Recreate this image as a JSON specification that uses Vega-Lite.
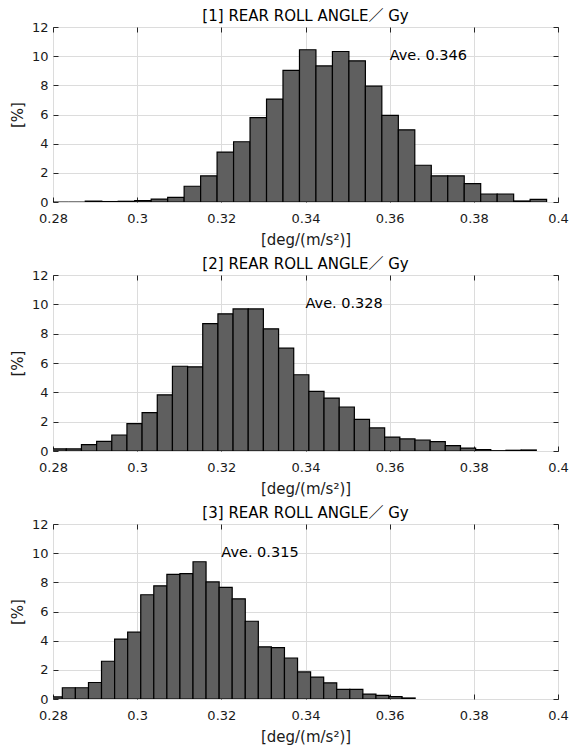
{
  "$schema": "https://vega.github.io/schema/vega-lite/v6.json",
  "padding": {"left": 9, "top": 8, "right": 4, "bottom": 2},
  "bounds": "flush",
  "spacing": 73,
  "config": {
    "font": "DejaVu Sans, Noto Sans CJK JP",
    "view": {"stroke": "#262626", "strokeWidth": 1},
    "axis": {
      "labelFont": "DejaVu Sans, Noto Sans CJK JP",
      "labelFontSize": 13,
      "labelColor": "#1a1a1a",
      "titleFont": "DejaVu Sans, Noto Sans CJK JP",
      "titleFontSize": 15,
      "titleFontWeight": "normal",
      "titleColor": "#1a1a1a",
      "tickColor": "#262626",
      "tickSize": -5,
      "gridColor": "#dcdcdc",
      "gridWidth": 1,
      "domain": false,
      "labelFlush": false,
      "labelOverlap": false,
      "labelBound": false
    },
    "title": {
      "font": "DejaVu Sans, Noto Sans CJK JP",
      "fontSize": 15,
      "fontWeight": "normal",
      "color": "#000000",
      "anchor": "middle",
      "baseline": "alphabetic",
      "offset": -3
    }
  },
  "datasets": {
    "p1": [
      {"x0": 0.27984, "x1": 0.28376, "pct": 0},
      {"x0": 0.28376, "x1": 0.28767, "pct": 0},
      {"x0": 0.28767, "x1": 0.29159, "pct": 0.06},
      {"x0": 0.29159, "x1": 0.2955, "pct": 0.03},
      {"x0": 0.2955, "x1": 0.29942, "pct": 0.05},
      {"x0": 0.29942, "x1": 0.30333, "pct": 0.1},
      {"x0": 0.30333, "x1": 0.30725, "pct": 0.2},
      {"x0": 0.30725, "x1": 0.31116, "pct": 0.32},
      {"x0": 0.31116, "x1": 0.31508, "pct": 1.08},
      {"x0": 0.31508, "x1": 0.31899, "pct": 1.79},
      {"x0": 0.31899, "x1": 0.32291, "pct": 3.42},
      {"x0": 0.32291, "x1": 0.32682, "pct": 4.13},
      {"x0": 0.32682, "x1": 0.33074, "pct": 5.78},
      {"x0": 0.33074, "x1": 0.33465, "pct": 7.06},
      {"x0": 0.33465, "x1": 0.33857, "pct": 9.03},
      {"x0": 0.33857, "x1": 0.34248, "pct": 10.44},
      {"x0": 0.34248, "x1": 0.3464, "pct": 9.33},
      {"x0": 0.3464, "x1": 0.35031, "pct": 10.32},
      {"x0": 0.35031, "x1": 0.35423, "pct": 9.68},
      {"x0": 0.35423, "x1": 0.35814, "pct": 7.94},
      {"x0": 0.35814, "x1": 0.36206, "pct": 5.94},
      {"x0": 0.36206, "x1": 0.36597, "pct": 4.95},
      {"x0": 0.36597, "x1": 0.36989, "pct": 2.52},
      {"x0": 0.36989, "x1": 0.3738, "pct": 1.79},
      {"x0": 0.3738, "x1": 0.37772, "pct": 1.79},
      {"x0": 0.37772, "x1": 0.38163, "pct": 1.26},
      {"x0": 0.38163, "x1": 0.38555, "pct": 0.55},
      {"x0": 0.38555, "x1": 0.38946, "pct": 0.55},
      {"x0": 0.38946, "x1": 0.39338, "pct": 0.07},
      {"x0": 0.39338, "x1": 0.39729, "pct": 0.18}
    ],
    "p2": [
      {"x0": 0.27956, "x1": 0.28316, "pct": 0.14},
      {"x0": 0.28316, "x1": 0.28676, "pct": 0.14},
      {"x0": 0.28676, "x1": 0.29037, "pct": 0.43},
      {"x0": 0.29037, "x1": 0.29397, "pct": 0.66},
      {"x0": 0.29397, "x1": 0.29757, "pct": 1.09},
      {"x0": 0.29757, "x1": 0.30117, "pct": 1.86},
      {"x0": 0.30117, "x1": 0.30478, "pct": 2.61},
      {"x0": 0.30478, "x1": 0.30838, "pct": 3.83},
      {"x0": 0.30838, "x1": 0.31198, "pct": 5.78},
      {"x0": 0.31198, "x1": 0.31558, "pct": 5.74},
      {"x0": 0.31558, "x1": 0.31919, "pct": 8.69},
      {"x0": 0.31919, "x1": 0.32279, "pct": 9.35},
      {"x0": 0.32279, "x1": 0.32639, "pct": 9.69},
      {"x0": 0.32639, "x1": 0.32999, "pct": 9.69},
      {"x0": 0.32999, "x1": 0.3336, "pct": 8.33},
      {"x0": 0.3336, "x1": 0.3372, "pct": 7.01},
      {"x0": 0.3372, "x1": 0.3408, "pct": 5.2},
      {"x0": 0.3408, "x1": 0.3444, "pct": 4.06},
      {"x0": 0.3444, "x1": 0.34801, "pct": 3.61},
      {"x0": 0.34801, "x1": 0.35161, "pct": 3.0},
      {"x0": 0.35161, "x1": 0.35521, "pct": 2.16},
      {"x0": 0.35521, "x1": 0.35881, "pct": 1.57},
      {"x0": 0.35881, "x1": 0.36242, "pct": 0.95},
      {"x0": 0.36242, "x1": 0.36602, "pct": 0.82},
      {"x0": 0.36602, "x1": 0.36962, "pct": 0.75},
      {"x0": 0.36962, "x1": 0.37322, "pct": 0.64},
      {"x0": 0.37322, "x1": 0.37683, "pct": 0.36},
      {"x0": 0.37683, "x1": 0.38043, "pct": 0.2},
      {"x0": 0.38043, "x1": 0.38403, "pct": 0.09},
      {"x0": 0.38403, "x1": 0.38763, "pct": 0.02},
      {"x0": 0.38763, "x1": 0.39124, "pct": 0.05},
      {"x0": 0.39124, "x1": 0.39484, "pct": 0.07}
    ],
    "p3": [
      {"x0": 0.27911, "x1": 0.28222, "pct": 0.14},
      {"x0": 0.28222, "x1": 0.28532, "pct": 0.77},
      {"x0": 0.28532, "x1": 0.28843, "pct": 0.77},
      {"x0": 0.28843, "x1": 0.29153, "pct": 1.13},
      {"x0": 0.29153, "x1": 0.29464, "pct": 2.59},
      {"x0": 0.29464, "x1": 0.29774, "pct": 4.11},
      {"x0": 0.29774, "x1": 0.30085, "pct": 4.58},
      {"x0": 0.30085, "x1": 0.30395, "pct": 7.15},
      {"x0": 0.30395, "x1": 0.30706, "pct": 7.76},
      {"x0": 0.30706, "x1": 0.31016, "pct": 8.55},
      {"x0": 0.31016, "x1": 0.31327, "pct": 8.6},
      {"x0": 0.31327, "x1": 0.31637, "pct": 9.41},
      {"x0": 0.31637, "x1": 0.31948, "pct": 8.03},
      {"x0": 0.31948, "x1": 0.32258, "pct": 7.65},
      {"x0": 0.32258, "x1": 0.32569, "pct": 6.87},
      {"x0": 0.32569, "x1": 0.32879, "pct": 5.33},
      {"x0": 0.32879, "x1": 0.3319, "pct": 3.58},
      {"x0": 0.3319, "x1": 0.335, "pct": 3.52},
      {"x0": 0.335, "x1": 0.33811, "pct": 2.81},
      {"x0": 0.33811, "x1": 0.34121, "pct": 1.86},
      {"x0": 0.34121, "x1": 0.34432, "pct": 1.5},
      {"x0": 0.34432, "x1": 0.34742, "pct": 1.11},
      {"x0": 0.34742, "x1": 0.35053, "pct": 0.66},
      {"x0": 0.35053, "x1": 0.35363, "pct": 0.66},
      {"x0": 0.35363, "x1": 0.35674, "pct": 0.34},
      {"x0": 0.35674, "x1": 0.35984, "pct": 0.25},
      {"x0": 0.35984, "x1": 0.36295, "pct": 0.16},
      {"x0": 0.36295, "x1": 0.36605, "pct": 0.07}
    ],
    "a1": [{"tx": 0.36, "ty": 10, "label": "Ave. 0.346"}],
    "a2": [{"tx": 0.34, "ty": 10, "label": "Ave. 0.328"}],
    "a3": [{"tx": 0.32, "ty": 10, "label": "Ave. 0.315"}]
  },
  "vconcat": [
    {
      "width": 505,
      "height": 175,
      "title": {"text": "[1] REAR ROLL ANGLE／ Gy"},
      "resolve": {"axis": {"x": "independent", "y": "independent"}},
      "layer": [
        {
          "data": {"name": "p1"},
          "mark": {"type": "bar", "clip": true, "fill": "#5f5f5f", "stroke": "#000000", "strokeWidth": 1.2},
          "encoding": {
            "x": {"field": "x0", "type": "quantitative", "scale": {"domain": [0.28, 0.4], "nice": false, "zero": false},
                  "axis": {"title": "[deg/(m/s²)]", "values": [0.28, 0.3, 0.32, 0.34, 0.36, 0.38, 0.4], "format": "~g", "labelPadding": 15, "grid": true, "titleY": 37, "titleBaseline": "middle"}},
            "x2": {"field": "x1"},
            "y": {"field": "pct", "type": "quantitative", "scale": {"domain": [0, 12], "nice": false},
                  "axis": {"title": "[%]", "values": [0, 2, 4, 6, 8, 10, 12], "labelPadding": 10, "grid": true, "titleX": -36, "titleY": 87.5, "titleAngle": -90, "titleAlign": "center", "titleBaseline": "middle"}},
            "y2": {"datum": 0}
          }
        },
        {
          "data": {"name": "a1"},
          "mark": {"type": "text", "align": "left", "baseline": "middle", "fontSize": 14.5, "color": "#000000"},
          "encoding": {
            "x": {"field": "tx", "type": "quantitative", "scale": {"domain": [0.28, 0.4], "nice": false, "zero": false},
                  "axis": {"orient": "top", "title": null, "values": [0.28, 0.3, 0.32, 0.34, 0.36, 0.38, 0.4], "labels": false, "grid": false}},
            "y": {"field": "ty", "type": "quantitative", "scale": {"domain": [0, 12], "nice": false},
                  "axis": {"orient": "right", "title": null, "values": [0, 2, 4, 6, 8, 10, 12], "labels": false, "grid": false}},
            "text": {"field": "label"}
          }
        }
      ]
    },
    {
      "width": 505,
      "height": 176,
      "title": {"text": "[2] REAR ROLL ANGLE／ Gy"},
      "resolve": {"axis": {"x": "independent", "y": "independent"}},
      "layer": [
        {
          "data": {"name": "p2"},
          "mark": {"type": "bar", "clip": true, "fill": "#5f5f5f", "stroke": "#000000", "strokeWidth": 1.2},
          "encoding": {
            "x": {"field": "x0", "type": "quantitative", "scale": {"domain": [0.28, 0.4], "nice": false, "zero": false},
                  "axis": {"title": "[deg/(m/s²)]", "values": [0.28, 0.3, 0.32, 0.34, 0.36, 0.38, 0.4], "format": "~g", "labelPadding": 15, "grid": true, "titleY": 37, "titleBaseline": "middle"}},
            "x2": {"field": "x1"},
            "y": {"field": "pct", "type": "quantitative", "scale": {"domain": [0, 12], "nice": false},
                  "axis": {"title": "[%]", "values": [0, 2, 4, 6, 8, 10, 12], "labelPadding": 10, "grid": true, "titleX": -36, "titleY": 88, "titleAngle": -90, "titleAlign": "center", "titleBaseline": "middle"}},
            "y2": {"datum": 0}
          }
        },
        {
          "data": {"name": "a2"},
          "mark": {"type": "text", "align": "left", "baseline": "middle", "fontSize": 14.5, "color": "#000000"},
          "encoding": {
            "x": {"field": "tx", "type": "quantitative", "scale": {"domain": [0.28, 0.4], "nice": false, "zero": false},
                  "axis": {"orient": "top", "title": null, "values": [0.28, 0.3, 0.32, 0.34, 0.36, 0.38, 0.4], "labels": false, "grid": false}},
            "y": {"field": "ty", "type": "quantitative", "scale": {"domain": [0, 12], "nice": false},
                  "axis": {"orient": "right", "title": null, "values": [0, 2, 4, 6, 8, 10, 12], "labels": false, "grid": false}},
            "text": {"field": "label"}
          }
        }
      ]
    },
    {
      "width": 505,
      "height": 175,
      "title": {"text": "[3] REAR ROLL ANGLE／ Gy"},
      "resolve": {"axis": {"x": "independent", "y": "independent"}},
      "layer": [
        {
          "data": {"name": "p3"},
          "mark": {"type": "bar", "clip": true, "fill": "#5f5f5f", "stroke": "#000000", "strokeWidth": 1.2},
          "encoding": {
            "x": {"field": "x0", "type": "quantitative", "scale": {"domain": [0.28, 0.4], "nice": false, "zero": false},
                  "axis": {"title": "[deg/(m/s²)]", "values": [0.28, 0.3, 0.32, 0.34, 0.36, 0.38, 0.4], "format": "~g", "labelPadding": 15, "grid": true, "titleY": 37, "titleBaseline": "middle"}},
            "x2": {"field": "x1"},
            "y": {"field": "pct", "type": "quantitative", "scale": {"domain": [0, 12], "nice": false},
                  "axis": {"title": "[%]", "values": [0, 2, 4, 6, 8, 10, 12], "labelPadding": 10, "grid": true, "titleX": -36, "titleY": 87.5, "titleAngle": -90, "titleAlign": "center", "titleBaseline": "middle"}},
            "y2": {"datum": 0}
          }
        },
        {
          "data": {"name": "a3"},
          "mark": {"type": "text", "align": "left", "baseline": "middle", "fontSize": 14.5, "color": "#000000"},
          "encoding": {
            "x": {"field": "tx", "type": "quantitative", "scale": {"domain": [0.28, 0.4], "nice": false, "zero": false},
                  "axis": {"orient": "top", "title": null, "values": [0.28, 0.3, 0.32, 0.34, 0.36, 0.38, 0.4], "labels": false, "grid": false}},
            "y": {"field": "ty", "type": "quantitative", "scale": {"domain": [0, 12], "nice": false},
                  "axis": {"orient": "right", "title": null, "values": [0, 2, 4, 6, 8, 10, 12], "labels": false, "grid": false}},
            "text": {"field": "label"}
          }
        }
      ]
    }
  ]
}
